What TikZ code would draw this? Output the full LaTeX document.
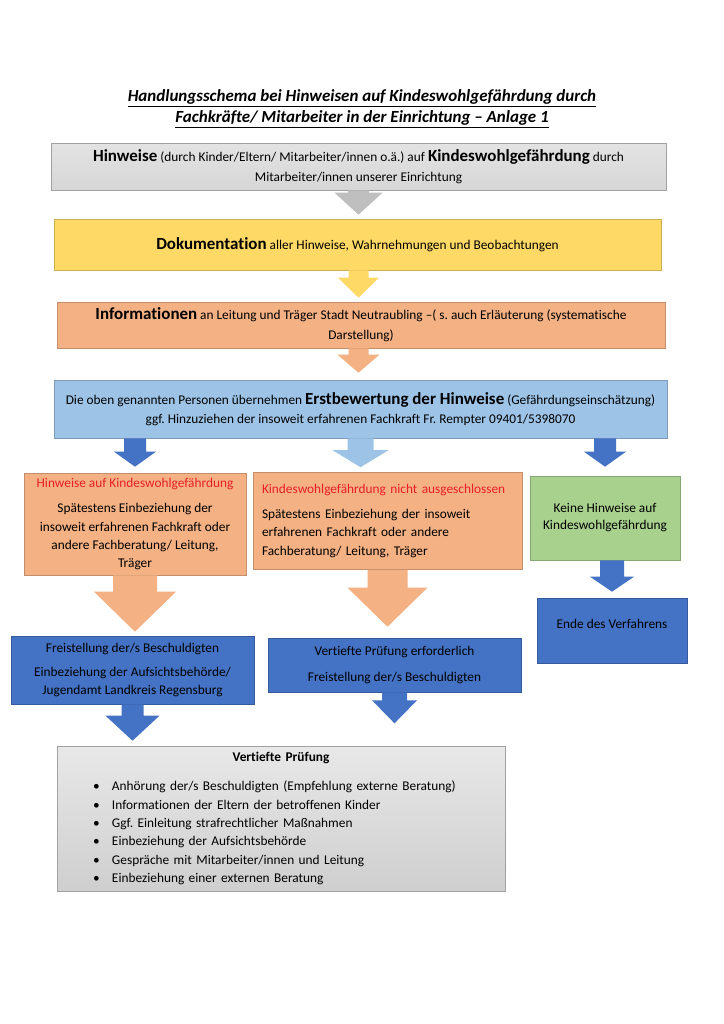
\documentclass[tikz,border=0pt]{standalone}
\usepackage{fontspec}
\setmainfont[Ligatures=NoCommon]{Carlito}
\usepackage{xcolor}
\usepackage{tikz}
\usetikzlibrary{positioning, calc}
\definecolor{greycolor}{RGB}{201,201,201}
\definecolor{goldcolor}{RGB}{255,217,102}
\definecolor{salmoncolor}{RGB}{244,177,131}
\definecolor{skycolor}{RGB}{157,195,230}
\definecolor{navycolor}{RGB}{68,114,196}
\definecolor{leafcolor}{RGB}{169,209,142}
\definecolor{alertcolor}{RGB}{232,30,40}
\newdimen\pxu \pxu=0.29mm
\newcommand{\headfont}{\fontsize{14}{15}\selectfont\bfseries}
\newcommand{\bul}[1]{\par\noindent\hspace*{36\pxu}\makebox[19\pxu][l]{\textbullet}#1}
% block arrow: colour, source node, tip, half shaft, half head, head length
\newcommand{\blockarrow}[6]{%
  \fill[#1] ($(#3 |- #2.south)+(-#4,0)$) -- ($(#3)+(-#4,-#6)$) -- ($(#3)+(-#5,-#6)$)
    -- (#3) -- ($(#3)+(#5,-#6)$) -- ($(#3)+(#4,-#6)$) -- ($(#3 |- #2.south)+(#4,0)$) -- cycle;}
\tikzset{
  stepbox/.style={rectangle, draw=#1!80!black, fill=#1, line width=0.5pt,
                  inner sep=0pt, align=center, text=black,
                  font=\fontsize{11}{15.2}\selectfont},
  stepbox/.default=greycolor,
  heading/.style={align=center, font=\fontsize{14}{17.5}\selectfont\bfseries\itshape},
}
\frenchspacing

\begin{document}
\begin{tikzpicture}[x=0.29mm, y=-0.29mm]
  \useasboundingbox[fill=white] (0,0) rectangle (724,1024);

  % Title
  \node[heading] (title) at (362,109)
    {\underline{Handlungsschema bei Hinweisen auf Kindeswohlgefährdung durch}\\
     \underline{Fachkräfte/ Mitarbeiter in der Einrichtung – Anlage 1}};

  % Main chain
  \node[stepbox, top color=gray!22, bottom color=gray!32, minimum width=615\pxu,
        minimum height=47\pxu] (hinw) at (358.5,166.5)
    {{\headfont Hinweise} (durch Kinder/Eltern/ Mitarbeiter/innen o.ä.) auf
     {\headfont Kindeswohlgefährdung} durch\\[1pt]
     Mitarbeiter/innen unserer Einrichtung};
  \node[stepbox=goldcolor, minimum width=607\pxu, minimum height=51\pxu] (doku) at (357.5,244.5)
    {{\headfont Dokumentation} aller Hinweise, Wahrnehmungen und Beobachtungen};
  \node[stepbox=salmoncolor, minimum width=608\pxu, minimum height=46\pxu] (info) at (361,325)
    {{\headfont Informationen} an Leitung und Träger Stadt Neutraubling –( s. auch
     Erläuterung (systematische\\[1pt] Darstellung)};
  \node[stepbox=skycolor, minimum width=613\pxu, minimum height=58\pxu] (erst) at (360.5,409)
    {Die oben genannten Personen übernehmen {\headfont Erstbewertung der Hinweise}
     (Gefährdungseinschätzung)\\
     ggf. Hinzuziehen der insoweit erfahrenen Fachkraft Fr. Rempter 09401/5398070};

  % Three branches
  \node[stepbox=salmoncolor, minimum width=222\pxu, minimum height=102\pxu] (hkwg) at (135,524)
    {{\color{alertcolor}Hinweise auf Kindeswohlgefährdung}\\[6pt]
     Spätestens Einbeziehung der\\ insoweit erfahrenen Fachkraft oder\\
     andere Fachberatung/ Leitung,\\ Träger};
  \node[stepbox=salmoncolor, minimum width=269\pxu, minimum height=97\pxu,
        text width=251\pxu, align=left] (nicht) at (387.5,521)
    {{\color{alertcolor}Kindeswohlgefährdung nicht ausgeschlossen}\\[5pt]
     Spätestens Einbeziehung der insoweit\\ erfahrenen Fachkraft oder andere\\
     Fachberatung/ Leitung, Träger};
  \node[stepbox=leafcolor, minimum width=150\pxu, minimum height=84\pxu,
        font=\fontsize{11}{14}\selectfont] (keine) at (605,518)
    {Keine Hinweise auf\\ Kindeswohlgefährdung};

  \node[stepbox=navycolor, minimum width=150\pxu, minimum height=65\pxu] (ende) at (612,630.5)
    {Ende des Verfahrens\\[-4pt]};
  \node[stepbox=navycolor, minimum width=243\pxu, minimum height=68\pxu] (frei) at (132.5,670)
    {Freistellung der/s Beschuldigten\\[5pt]
     Einbeziehung der Aufsichtsbehörde/\\ Jugendamt Landkreis Regensburg};
  \node[stepbox=navycolor, minimum width=253\pxu, minimum height=54\pxu] (vert) at (394.5,665)
    {Vertiefte Prüfung erforderlich\\[7pt] Freistellung der/s Beschuldigten};

  % Final box
  \node[stepbox, top color=gray!18, bottom color=gray!38, minimum width=448\pxu,
        minimum height=145\pxu, text width=448\pxu, align=left] (pruef) at (281,818.5)
    {{\centering\bfseries Vertiefte Prüfung\par}\vspace{9pt}
     \bul{Anhörung der/s Beschuldigten (Empfehlung externe Beratung)}
     \bul{Informationen der Eltern der betroffenen Kinder}
     \bul{Ggf. Einleitung strafrechtlicher Maßnahmen}
     \bul{Einbeziehung der Aufsichtsbehörde}
     \bul{Gespräche mit Mitarbeiter/innen und Leitung}
     \bul{Einbeziehung einer externen Beratung}};

  % Arrow tips
  \coordinate (dokutip) at ($(hinw.south |- doku.north)+(0,-4)$);
  \coordinate (infotip) at ($(hinw.south |- info.north)+(0,-4)$);
  \coordinate (ersttip) at ($(hinw.south |- erst.north)+(0,-7)$);
  \coordinate (hkwgtip) at ($(hkwg.north)+(0,-6)$);
  \coordinate (nichttip) at ($(erst.south |- nicht.north)+(0,-5)$);
  \coordinate (keinetip) at ($(keine.north)+(0,-9)$);
  \coordinate (freitip) at ($(hkwg.south |- frei.north)+(0,-4)$);
  \coordinate (verttip) at ($(nicht.south |- vert.north)+(0,-11)$);
  \coordinate (endetip) at ($(ende.north)+(0,-6)$);
  \coordinate (prueftipa) at ($(frei.south |- pruef.north)+(0,-5)$);
  \coordinate (prueftipb) at ($(vert.south)+(0,31)$);

  % Block arrows
  \blockarrow{gray!50}{hinw}{dokutip}{10.5}{24}{22}
  \blockarrow{goldcolor}{doku}{infotip}{10}{20.5}{20}
  \blockarrow{salmoncolor}{info}{ersttip}{10}{21}{18}
  \blockarrow{navycolor}{erst}{hkwgtip}{11}{21}{15}
  \blockarrow{skycolor}{erst}{nichttip}{13}{28}{17}
  \blockarrow{navycolor}{erst}{keinetip}{11}{21}{15}
  \blockarrow{salmoncolor}{hkwg}{freitip}{22}{41}{40}
  \blockarrow{salmoncolor}{nicht}{verttip}{20}{40}{39}
  \blockarrow{navycolor}{keine}{endetip}{12}{22}{15}
  \blockarrow{navycolor}{frei}{prueftipa}{11}{27}{25}
  \blockarrow{navycolor}{vert}{prueftipb}{12.5}{22.5}{23}

\end{tikzpicture}
\end{document}
